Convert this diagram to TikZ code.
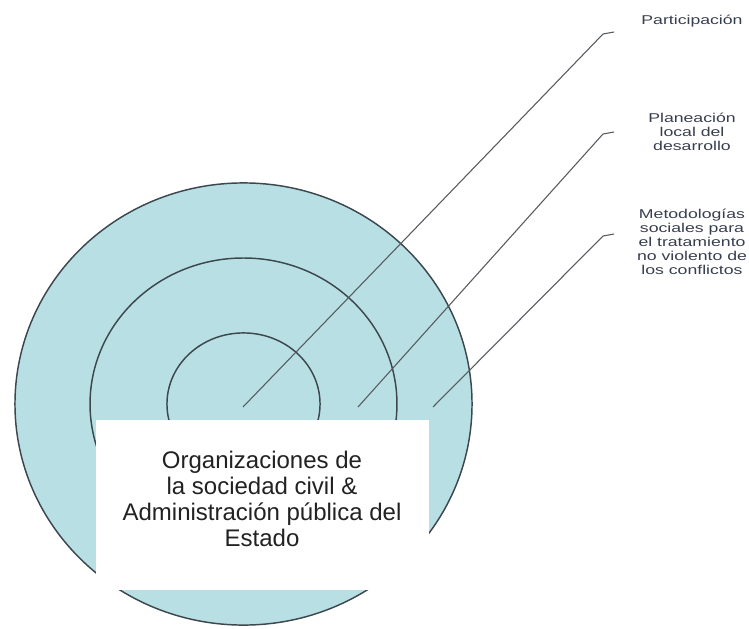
\documentclass[tikz,border=0pt]{standalone}
\usepackage{fontspec}
\setmainfont{Liberation Sans}
\definecolor{ringfill}{RGB}{184,224,228}
\definecolor{ringline}{RGB}{60,72,78}
\definecolor{leadline}{RGB}{85,90,95}
\definecolor{labeltext}{RGB}{55,62,78}
\definecolor{maintext}{RGB}{34,34,34}
\tikzset{
  ring/.style={fill=ringfill, draw=ringline, line width=1.1pt},
  lead/.style={draw=leadline, line width=0.8pt},
  smalllabel/.style={align=center, text=labeltext, inner sep=0pt,
    font=\fontsize{9.6}{10.6}\selectfont, xscale=1.38},
  mainbox/.style={fill=white, inner sep=0pt, minimum width=249.75pt, minimum height=127.5pt},
  maintxt/.style={align=center, text=maintext, inner sep=0pt,
    font=\fontsize{18}{19.5}\selectfont}
}
\begin{document}
\begin{tikzpicture}[x=0.75pt,y=-0.75pt]
\useasboundingbox (0,0) rectangle (749,628);
% rings
\path[ring] (243.5,404) ellipse [x radius=171.4pt, y radius=165.8pt];
\path[draw=ringline, line width=1.1pt] (243.5,404) ellipse [x radius=115.1pt, y radius=109.5pt];
\path[draw=ringline, line width=1.1pt] (243.5,404) ellipse [x radius=57.4pt, y radius=53.3pt];
% leader coordinates
\coordinate (s1) at (243,407);
\coordinate (k1) at (603,34);
\coordinate (e1) at (614,32);
\coordinate (s2) at (358,407);
\coordinate (k2) at (603,134);
\coordinate (e2) at (614,132);
\coordinate (s3) at (433,407);
\coordinate (k3) at (603,236);
\coordinate (e3) at (614,234);
\draw[lead] (s1) -- (k1) -- (e1);
\draw[lead] (s2) -- (k2) -- (e2);
\draw[lead] (s3) -- (k3) -- (e3);
% central box
\node[mainbox] (box) at (262.5,505) {};
\node[maintxt] (main) at (262,499) {Organizaciones de\\la sociedad civil \&\\Administración pública del\\Estado};
% labels
\node[smalllabel] (lab1) at (692,21) {Participación};
\node[smalllabel] (lab2) at (692,132) {Planeación\\local del\\desarrollo};
\node[smalllabel] (lab3) at (692,242) {Metodologías\\sociales para\\el tratamiento\\no violento de\\los conflictos};
\end{tikzpicture}
\end{document}
